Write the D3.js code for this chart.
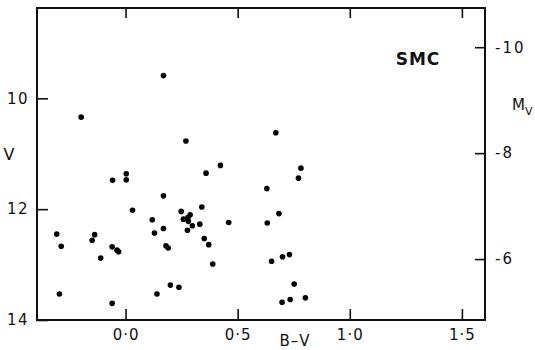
<!DOCTYPE html>
<html>
<head>
<meta charset="utf-8">
<script src="https://cdn.jsdelivr.net/npm/d3@7"></script>
<style>
  body { margin: 0; background: #fff; }
  svg { display: block; }
  .axis text { font-family: "DejaVu Sans", sans-serif; fill: #111; }
  .lbl { font-family: "DejaVu Sans", sans-serif; fill: #111; }
</style>
</head>
<body>
<svg id="chart" width="535" height="350"></svg>
<script>
// B-V colour and apparent V magnitude of the SMC stars
const starBV = [
  0.169, -0.198, 0.269, 0.670, 0.423, 0.782,
  0.003, 0.003, -0.058, 0.031, -0.307, -0.287, -0.138, -0.149,
  -0.060, -0.038, -0.031, -0.111, -0.295, -0.060,
  0.359, 0.169, 0.340, 0.248, 0.119, 0.460, 0.288, 0.278, 0.258,
  0.280, 0.298, 0.331, 0.129, 0.169, 0.276, 0.351, 0.371, 0.180,
  0.190, 0.389, 0.200, 0.238, 0.140,
  0.771, 0.630, 0.684, 0.632, 0.651, 0.700, 0.731, 0.752, 0.802,
  0.734, 0.698
];
const starV = [
  9.59, 10.34, 10.77, 10.62, 11.21, 11.26,
  11.36, 11.47, 11.48, 12.02, 12.45, 12.67, 12.46, 12.56,
  12.68, 12.74, 12.77, 12.88, 13.53, 13.70,
  11.35, 11.76, 11.96, 12.04, 12.19, 12.24, 12.10, 12.15, 12.18,
  12.22, 12.30, 12.27, 12.43, 12.35, 12.38, 12.53, 12.64, 12.66,
  12.70, 12.99, 13.37, 13.41, 13.53,
  11.44, 11.63, 12.08, 12.25, 12.94, 12.86, 12.82, 13.35, 13.60,
  13.63, 13.68
];

const bvTicks = [0, 0.5, 1.0, 1.5];
const vTicks = [10, 12, 14];
const mvTicks = [-10, -8, -6];

const margin = { top: 8, right: 50, bottom: 30, left: 37 };
const svg = d3.select('#chart');
const width = 535 - margin.left - margin.right;
const height = 350 - margin.top - margin.bottom;

const x = d3.scaleLinear().domain([-0.395, 1.603]).range([0, width]);
const y = d3.scaleLinear().domain([8.37, 14.0]).range([0, height]);
const yM = d3.scaleLinear().domain([-10.74, -4.85]).range([0, height]);

const g = svg.append('g')
  .attr('transform', 'translate(' + margin.left + ',' + margin.top + ')');

const fmt = d => d3.format('.1f')(d).replace('.', '·');

g.append('g')
  .attr('class', 'axis')
  .attr('transform', 'translate(0,' + height + ')')
  .call(d3.axisBottom(x).tickValues(bvTicks).tickSize(-11).tickPadding(9).tickFormat(fmt))
  .call(a => a.selectAll('text').style('font-size', '15px').attr('letter-spacing', 1));

g.append('g')
  .attr('class', 'axis')
  .call(d3.axisTop(x).tickValues(bvTicks).tickSize(-10).tickFormat(''));

g.append('g')
  .attr('class', 'axis')
  .call(d3.axisLeft(y).tickValues(vTicks).tickSize(-11).tickPadding(8).tickFormat(d3.format('d')))
  .call(a => a.selectAll('text').style('font-size', '15px').attr('letter-spacing', 1.5));

g.append('g')
  .attr('class', 'axis')
  .attr('transform', 'translate(' + width + ',0)')
  .call(d3.axisRight(yM).tickValues(mvTicks).tickSize(-10).tickPadding(10).tickFormat(d => '-' + Math.abs(d)))
  .call(a => a.selectAll('text').style('font-size', '15px').attr('letter-spacing', 2));

g.selectAll('.axis .domain').remove();
g.selectAll('.axis line').attr('stroke', '#111').attr('stroke-width', 1.6);

// frame
g.append('rect')
  .attr('width', width)
  .attr('height', height)
  .attr('fill', 'none')
  .attr('stroke', '#111')
  .attr('stroke-width', 2);

g.selectAll('circle.star')
  .data(starBV.map((bv, i) => ({ bv: bv, v: starV[i] })))
  .enter().append('circle')
  .attr('class', 'star')
  .attr('cx', d => x(d.bv))
  .attr('cy', d => y(d.v))
  .attr('r', 2.8)
  .attr('fill', '#000');

// labels
svg.append('text').attr('class', 'lbl')
  .attr('x', 9).attr('y', 160)
  .attr('text-anchor', 'middle')
  .style('font-size', '16px')
  .text('V');

svg.append('text').attr('class', 'lbl')
  .attr('x', 295).attr('y', 346)
  .attr('text-anchor', 'middle')
  .style('font-size', '15px')
  .attr('letter-spacing', 1)
  .text('B–V');

svg.append('text').attr('class', 'lbl')
  .attr('x', 418).attr('y', 65)
  .attr('text-anchor', 'middle')
  .style('font-size', '17px')
  .style('font-weight', 'bold')
  .attr('letter-spacing', 1)
  .text('SMC');

const mv = svg.append('text').attr('class', 'lbl')
  .attr('x', 512).attr('y', 110)
  .style('font-size', '15px');
mv.append('tspan').text('M');
mv.append('tspan').attr('dy', 5).style('font-size', '11px').text('V');
</script>
</body>
</html>
